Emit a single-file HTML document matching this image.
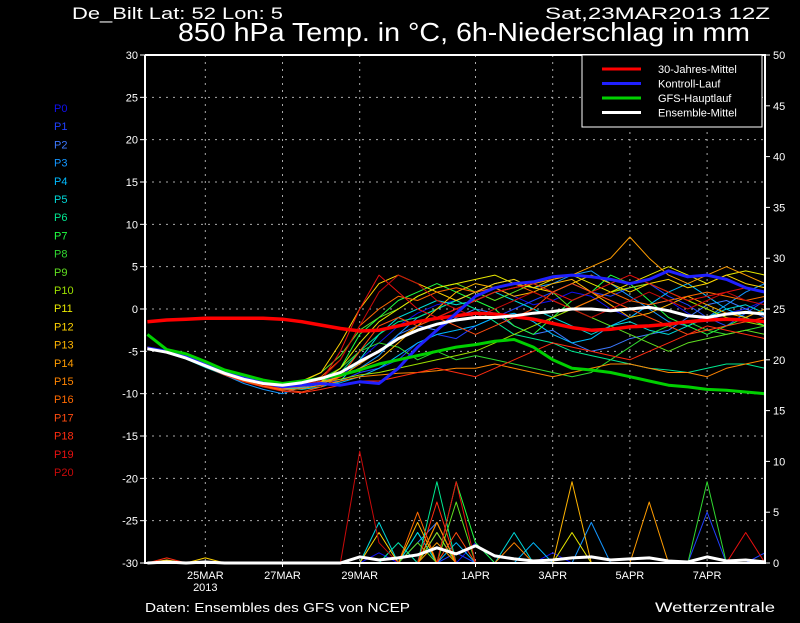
<!DOCTYPE html>
<html><head><meta charset="utf-8"><style>
body{margin:0;background:#000;width:800px;height:618px;overflow:hidden;font-family:"Liberation Sans",sans-serif}
svg text{font-family:"Liberation Sans",sans-serif}
</style></head><body>
<svg id="c" width="800" height="618"></svg>
<script>
const hours=[];for(let i=0;i<=32;i++)hours.push(i*12);
const leftTicks=[30,25,20,15,10,5,0,-5,-10,-15,-20,-25,-30];
const rightTicks=[50,45,40,35,30,25,20,15,10,5,0];
const dateLabels=["25MAR","27MAR","29MAR","1APR","3APR","5APR","7APR"];
const dateHours=[36,84,132,204,252,300,348];
const climMean=[-1.5,-1.3,-1.2,-1.1,-1.1,-1.1,-1.1,-1.2,-1.5,-1.9,-2.3,-2.6,-2.5,-2,-1.5,-1.1,-0.8,-0.5,-0.6,-0.9,-1.2,-1.7,-2.2,-2.5,-2.4,-2.1,-2,-1.8,-1.5,-1.3,-1.2,-1.3,-1.5];
const control=[-4.6,-5,-5.6,-6.6,-7.4,-8.2,-8.7,-9.2,-9,-8.8,-9,-8.6,-8.8,-7,-4.5,-2.5,-0.5,1.5,2.5,3,3.2,3.8,4,3.8,3.5,3,3.5,4.5,3.8,4,3.5,2.5,2];
const gfsMain=[-3,-4.8,-5.3,-6.2,-7.2,-7.8,-8.4,-8.8,-8.5,-8.2,-7.8,-7.2,-6.5,-6,-5.5,-5,-4.5,-4.2,-3.8,-3.6,-4.5,-6,-7,-7.2,-7.5,-8,-8.5,-9,-9.2,-9.5,-9.6,-9.8,-10];
const ensMean=[-4.7,-5.1,-5.8,-6.7,-7.6,-8.3,-8.8,-9,-8.7,-8.2,-7.5,-6.2,-5,-3.5,-2.5,-1.8,-1.3,-1,-1,-0.8,-0.5,-0.3,0,0,-0.2,0,0.2,-0.2,-0.8,-1,-0.6,-0.4,-0.6];
const members=[
[-4.6,-5,-5.5,-6.5,-7.5,-8.2,-8.8,-9.2,-9,-8.5,-8,-6,-4,-2,-0.5,0.5,1,2,2.5,1.5,0.5,1,2,1.5,0,-1,0.5,1,-0.5,-1.5,-0.5,0,1],
[-4.5,-5.1,-5.7,-6.6,-7.3,-8,-8.6,-9,-8.8,-8.6,-8.5,-7.5,-7,-6,-4,-3,-3.5,-2,-1,0,1,2,3,2,1.5,2.5,3,1.5,0.5,-1,-2,-0.5,1],
[-4.7,-5,-5.6,-6.5,-7.6,-8.4,-9,-9.5,-9,-8.2,-7.5,-6.5,-5,-3,-2,-2.5,-1,0,-0.5,-2,-3,-2.5,-4,-5,-4.5,-3.5,-3,-2.5,-1,0.5,1,0,-1],
[-4.6,-5.2,-5.8,-6.8,-7.8,-8.8,-9.5,-10,-9.2,-8.8,-8,-7,-5.5,-3,-1,0,1,2,3,3.5,2.5,3,4,4.5,3,1.5,0,-1.5,-2,-1,0.5,2,3],
[-4.5,-5,-5.6,-6.6,-7.5,-8.5,-9.2,-9.5,-9.3,-9,-8.7,-8,-7,-5.5,-4,-3,-2.5,-2,-1,-0.5,-1.5,-3,-4,-3.5,-2,-1,0.5,2,3,1.5,0,-1,-2],
[-4.7,-5.2,-5.9,-6.9,-7.8,-8.6,-9,-9.3,-9.5,-9.2,-8.5,-6,-3,-1,0,1,0.5,1,2,1,0,-1,-2,-3,-2,-1.5,-2.5,-3,-2,-1,0,0.5,-0.5],
[-4.6,-5.1,-5.7,-6.7,-7.7,-8.5,-9,-9.2,-9,-8.6,-7.5,-5,-3,-1.5,-1,0,1,0,-1.5,-3,-3.5,-4,-5,-5.5,-6,-6.5,-7,-7.2,-7.5,-7,-6.5,-6.5,-7],
[-4.5,-5,-5.5,-6.4,-7.4,-8.2,-8.8,-9,-8.9,-8.5,-7,-3,-1,1,2,3,2,1,0,-2,-3,-1,1,2,4,3,1,-1,-2,-3,-2,-1,-2],
[-4.6,-5,-5.6,-6.5,-7.5,-8.3,-8.8,-9.1,-8.8,-8.2,-7,-5,-4,-4.5,-6,-5,-6,-5.5,-6,-6.5,-7,-7.5,-8,-7.5,-6,-4.5,-3,-2,-1.5,-2.5,-3,-2.5,-2],
[-4.5,-5.1,-5.6,-6.6,-7.6,-8.2,-8.7,-9,-8.6,-7.5,-5.5,-2.5,-1,0,1.5,2.5,3,2,1,2,3,2,0,-1,-2,-3,-4,-5,-4,-3.5,-3,-2.5,-3],
[-4.6,-5,-5.5,-6.5,-7.5,-8.3,-8.9,-9.2,-9,-8.7,-8.3,-7.8,-7.5,-7,-6.5,-6,-5.5,-5,-4,-3,-2,-1,0,1,2,2.5,3,2,1,0,-1,-1.5,-2],
[-4.5,-5,-5.6,-6.6,-7.6,-8.4,-9,-9.3,-9.1,-8.6,-7,-4,-1.5,0,1.5,2.5,3,3.5,4,3,2.5,3.5,4,3,2,3,4,5,4,3,4,4.5,4],
[-4.6,-5.1,-5.7,-6.7,-7.6,-8.3,-8.8,-9,-8.5,-7.5,-4,0,3,4,3,2,1,2,3,3.5,2.5,2,3,4,3,2,3,3.5,2.5,3,4,3,2.5],
[-4.5,-5,-5.6,-6.5,-7.5,-8.2,-8.8,-9.2,-9,-8.6,-8,-7,-6,-4,-2,0,2,3,2.5,1.5,2,3,3.5,2,0.5,-1,-0.5,0.5,1.5,0.5,-0.5,-1,0],
[-4.7,-5.2,-5.8,-6.8,-7.7,-8.5,-9,-9.4,-9.2,-8.8,-8,-6.5,-5,-3.5,-2,-1,0,1,2,2.5,3,3.5,4,5,6,8.5,6,4,3,4,5,4,3],
[-4.6,-5.1,-5.7,-6.7,-7.7,-8.5,-9.1,-9.6,-9.4,-9,-8.5,-8,-7.8,-7.6,-7.5,-7.3,-7,-7,-6.5,-7,-7.5,-8,-7.5,-7,-6.5,-6.5,-7,-7.5,-7.5,-8,-7,-6.5,-6],
[-4.5,-5,-5.6,-6.5,-7.4,-8.2,-8.7,-9,-8.7,-8,-6,-2,0,1.5,1,2,2.5,2,2.5,3,2,1,0,1,2,1,0.5,1,1.5,2,1.5,1,1.5],
[-4.6,-5.1,-5.7,-6.6,-7.6,-8.4,-9,-9.5,-9.8,-9.2,-8,-5,-2,-1,-2,-1,-2,-3,-2,-1,0,2,3,2,1,0,-1,-2,-3,-2.5,-2,-1.5,-1],
[-4.7,-5.2,-5.8,-6.8,-7.8,-8.6,-9.2,-9.7,-9.9,-9.5,-9,-8.5,-8.5,-8,-7.5,-7,-7.5,-8,-7,-6,-5,-4,-4.5,-5,-5.5,-6,-5,-4,-3,-2,-2.5,-3,-3.5],
[-4.5,-5,-5.5,-6.5,-7.5,-8.3,-8.9,-9.2,-9,-8.5,-5,0,4,2,0,-1,0,1,2,2.5,3,2,1,2,3,4,3,2,1,1.5,2,2.5,2],
[-4.6,-5,-5.6,-6.6,-7.6,-8.4,-9,-9.3,-9,-8.3,-6,-2,2,4,3,1,0,-1,0,1,2,1,0,-1,0,1,2,1,0,1,2,1,0.5]
];
const memberColors=["#1010f0","#2040ff","#3c78ff","#1496ff","#00baff","#00d8d8","#00e890","#20ff40","#30d830","#60e020","#9ce000","#e8e800","#ffd200","#ffb400","#ff9c00","#ff8400","#ff6a00","#ff4c10","#ff2c10","#e81010","#c80a0a"];
const memberPrecip=[
[0,0,0,0,0,0,0,0,0,0,0,0,1,0,0,3,0,2,0,0,0,1,0,0,0,0,0,0,0,0,0,0,0],
[0,0,0,0,0,0,0,0,0,0,0,0,0,2,0,0,1,0,0,0,0,0,0,0,0,0,0,0,0,5,0,0,1],
[0,0,0,0,0,0,0,0,0,0,0,0,0,0,2,4,0,0,0,0,0,0,0,0,0,0,0,0,0,0,0,0,0],
[0,0,0,0,0,0,0,0,0,0,0,0,0,0,0,3,0,0,0,0,0,0,0,4,0,0,0,0,0,0,0,0,0],
[0,0,0,0,0,0,0,0,0,0,0,0,0,0,3,0,2,0,0,0,2,0,0,0,0,0,0,0,0,0,0,0,0],
[0,0,0,0,0,0,0,0,0,0,0,0,4,0,3,0,0,0,0,3,0,0,0,0,0,0,0,0,0,0,0,0,0],
[0,0,0,0,0,0,0,0,0,0,0,0,0,2,0,8,0,0,0,0,0,0,0,0,0,0,0,0,0,0,0,0,0],
[0,0,0,0,0,0,0,0,0,0,0,0,0,0,0,0,8,2,0,0,0,0,0,0,0,0,0,0,0,0,0,0,0],
[0,0,0,0,0,0,0,0,0,0,0,0,0,0,0,0,0,0,0,0,0,0,0,0,0,0,0,0,0,8,0,0,0],
[0,0,0,0,0,0,0,0,0,0,0,0,0,0,2,0,6,0,0,0,0,0,0,0,0,0,0,0,0,0,0,0,0],
[0,0,0,0,0,0,0,0,0,0,0,0,0,0,0,3,0,0,0,0,0,0,0,0,0,0,0,0,0,0,0,0,0],
[0,0,0,0,0,0,0,0,0,0,0,0,0,0,0,0,0,0,0,0,0,0,3,0,0,0,0,0,0,0,0,0,0],
[0,0.3,0,0.5,0,0,0,0,0,0,0,0,3,0,0,4,0,0,0,0,0,0,0,0,0,0,0,0,0,0,0,0,0],
[0,0,0,0,0,0,0,0,0,0,0,0,0,0,4,0,0,0,0,0,0,0,8,0,0,0,0,0,0,0,0,0,0],
[0,0,0,0,0,0,0,0,0,0,0,0,0,0,0,2,0,0,0,0,0,0,0,0,0,0,6,0,0,0,0,0,0],
[0,0,0,0,0,0,0,0,0,0,0,0,0,0,0,4,0,0,0,2,0,0,0,0,0,0,0,0,0,0,0,0,0],
[0,0,0,0,0,0,0,0,0,0,0,0,0,0,5,0,0,0,0,0,0,0,0,0,0,0,0,0,0,0,0,0,0],
[0,0,0,0,0,0,0,0,0,0,0,0,0,0,0,0,3,0,0,0,0,0,0,0,0,0,0,0,0,0,0,0,0],
[0,0.5,0,0,0,0,0,0,0,0,0,0,0,0,0,6,0,0,0,0,0,0,0,0,0,0,0,0,0,0,0,0,0],
[0,0,0,0,0,0,0,0,0,0,0,0,0,0,0,0,8,0,0,0,0,0,0,0,0,0,0,0,0,0,0,3,0],
[0,0,0,0,0,0,0,0,0,0,0,11,2,0,0,0,0,0,0,0,0,0,0,0,0,0,0,0,0,0,0,0,0]
];
const meanPrecip=[0,0.1,0,0.1,0,0,0,0,0,0,0,0.6,0.3,0.5,0.8,1.5,0.9,1.7,0.7,0.4,0.2,0.3,0.5,0.6,0.3,0.4,0.5,0.2,0.1,0.6,0.2,0.3,0.1];

const L=145,R=765,T=55,B=563;
const xS=h=>L+(h-(-1.5))*(R-L)/385.5;
const yT=v=>T+(30-v)*(B-T)/60;
const yP=v=>B-v*(B-T)/50;
const svg=document.getElementById('c');const NS='http://www.w3.org/2000/svg';
function mk(tag,attrs,parent){const e=document.createElementNS(NS,tag);for(const k in attrs)e.setAttribute(k,attrs[k]);(parent||svg).appendChild(e);return e;}
function txt(s,x,y,size,fill,anchor,name,len){const e=mk('text',{x:x,y:y,'font-size':size,fill:fill,'text-anchor':anchor||'start'});if(len){e.setAttribute('textLength',len);e.setAttribute('lengthAdjust','spacingAndGlyphs');}e.textContent=s;return e;}

txt('De_Bilt   Lat: 52  Lon: 5',72,19,17,'#fff','start','station-info',211);
txt('Sat,23MAR2013 12Z',545,19,17,'#fff','start','run-date',225);
txt('850 hPa Temp. in °C, 6h-Niederschlag in mm',178,41,26,'#fff','start','chart-title',572);
txt('Daten: Ensembles des GFS von NCEP',145,612,13,'#fff','start','data-source',265);
txt('Wetterzentrale',655,612,14,'#fff','start','brand',120);

const grid=mk('g',{stroke:'#aaa','stroke-width':1,'stroke-dasharray':'2,5'});

leftTicks.forEach(v=>{if(v>-30&&v<30)mk('line',{x1:L,x2:R,y1:yT(v),y2:yT(v)},grid);});
dateHours.forEach(h=>mk('line',{x1:xS(h),x2:xS(h),y1:T,y2:B},grid));

leftTicks.forEach(v=>{mk('line',{x1:L-5,x2:L,y1:yT(v),y2:yT(v),stroke:'#fff'});txt(String(v),L-7,yT(v)+4,11,'#fff','end','left-tick-label');});
rightTicks.forEach(v=>{mk('line',{x1:R,x2:R+5,y1:yP(v),y2:yP(v),stroke:'#fff'});txt(String(v),R+8,yP(v)+4,11,'#fff','start','right-tick-label');});
dateLabels.forEach((d,i)=>{mk('line',{x1:xS(dateHours[i]),x2:xS(dateHours[i]),y1:B,y2:B+4,stroke:'#fff'});txt(d,xS(dateHours[i]),B+16,11,'#fff','middle','date-label');});
txt('2013',xS(36),B+28,11,'#fff','middle','year-label');

function line(arr,scale,color,w,name){const d=arr.map((v,i)=>(i?'L':'M')+xS(hours[i]).toFixed(1)+' '+scale(v).toFixed(1)).join(' ');const p=mk('path',{d:d,fill:'none',stroke:color,'stroke-width':w,'stroke-linejoin':'round'});return p;}
members.forEach((m,i)=>line(m,yT,memberColors[i],1,'member-temp-p'+i));
memberPrecip.forEach((m,i)=>line(m,yP,memberColors[i],1,'member-precip-p'+i));
line(meanPrecip,yP,'#fff',3,'mean-precip');
line(climMean,yT,'#ff0000',3.5,'climate-mean-line');
line(control,yT,'#2020ff',3,'control-run-line');
line(gfsMain,yT,'#00d000',3,'gfs-main-line');
line(ensMean,yT,'#fff',3,'ensemble-mean-line');

mk('polyline',{points:`${L},${T} ${L},${B} ${R},${B} ${R},${T} ${L},${T}`,fill:'none',stroke:'#fff','stroke-width':2});

const lg=mk('g',{});
mk('rect',{x:582,y:55,width:180,height:72,fill:'#000',stroke:'#fff','stroke-width':1},lg);
const lgItems=[['30-Jahres-Mittel','#ff0000'],['Kontroll-Lauf','#2020ff'],['GFS-Hauptlauf','#00d000'],['Ensemble-Mittel','#fff']];
lgItems.forEach((it,i)=>{const y=69+i*14.5;mk('line',{x1:602,x2:641,y1:y,y2:y,stroke:it[1],'stroke-width':3},lg);const t=txt(it[0],658,y+4,11,'#fff','start','legend-entry');lg.appendChild(t);});

memberColors.forEach((c,i)=>txt('P'+i,54,112+i*18.2,11,c,'start','member-label-p'+i));
</script>
</body></html>
